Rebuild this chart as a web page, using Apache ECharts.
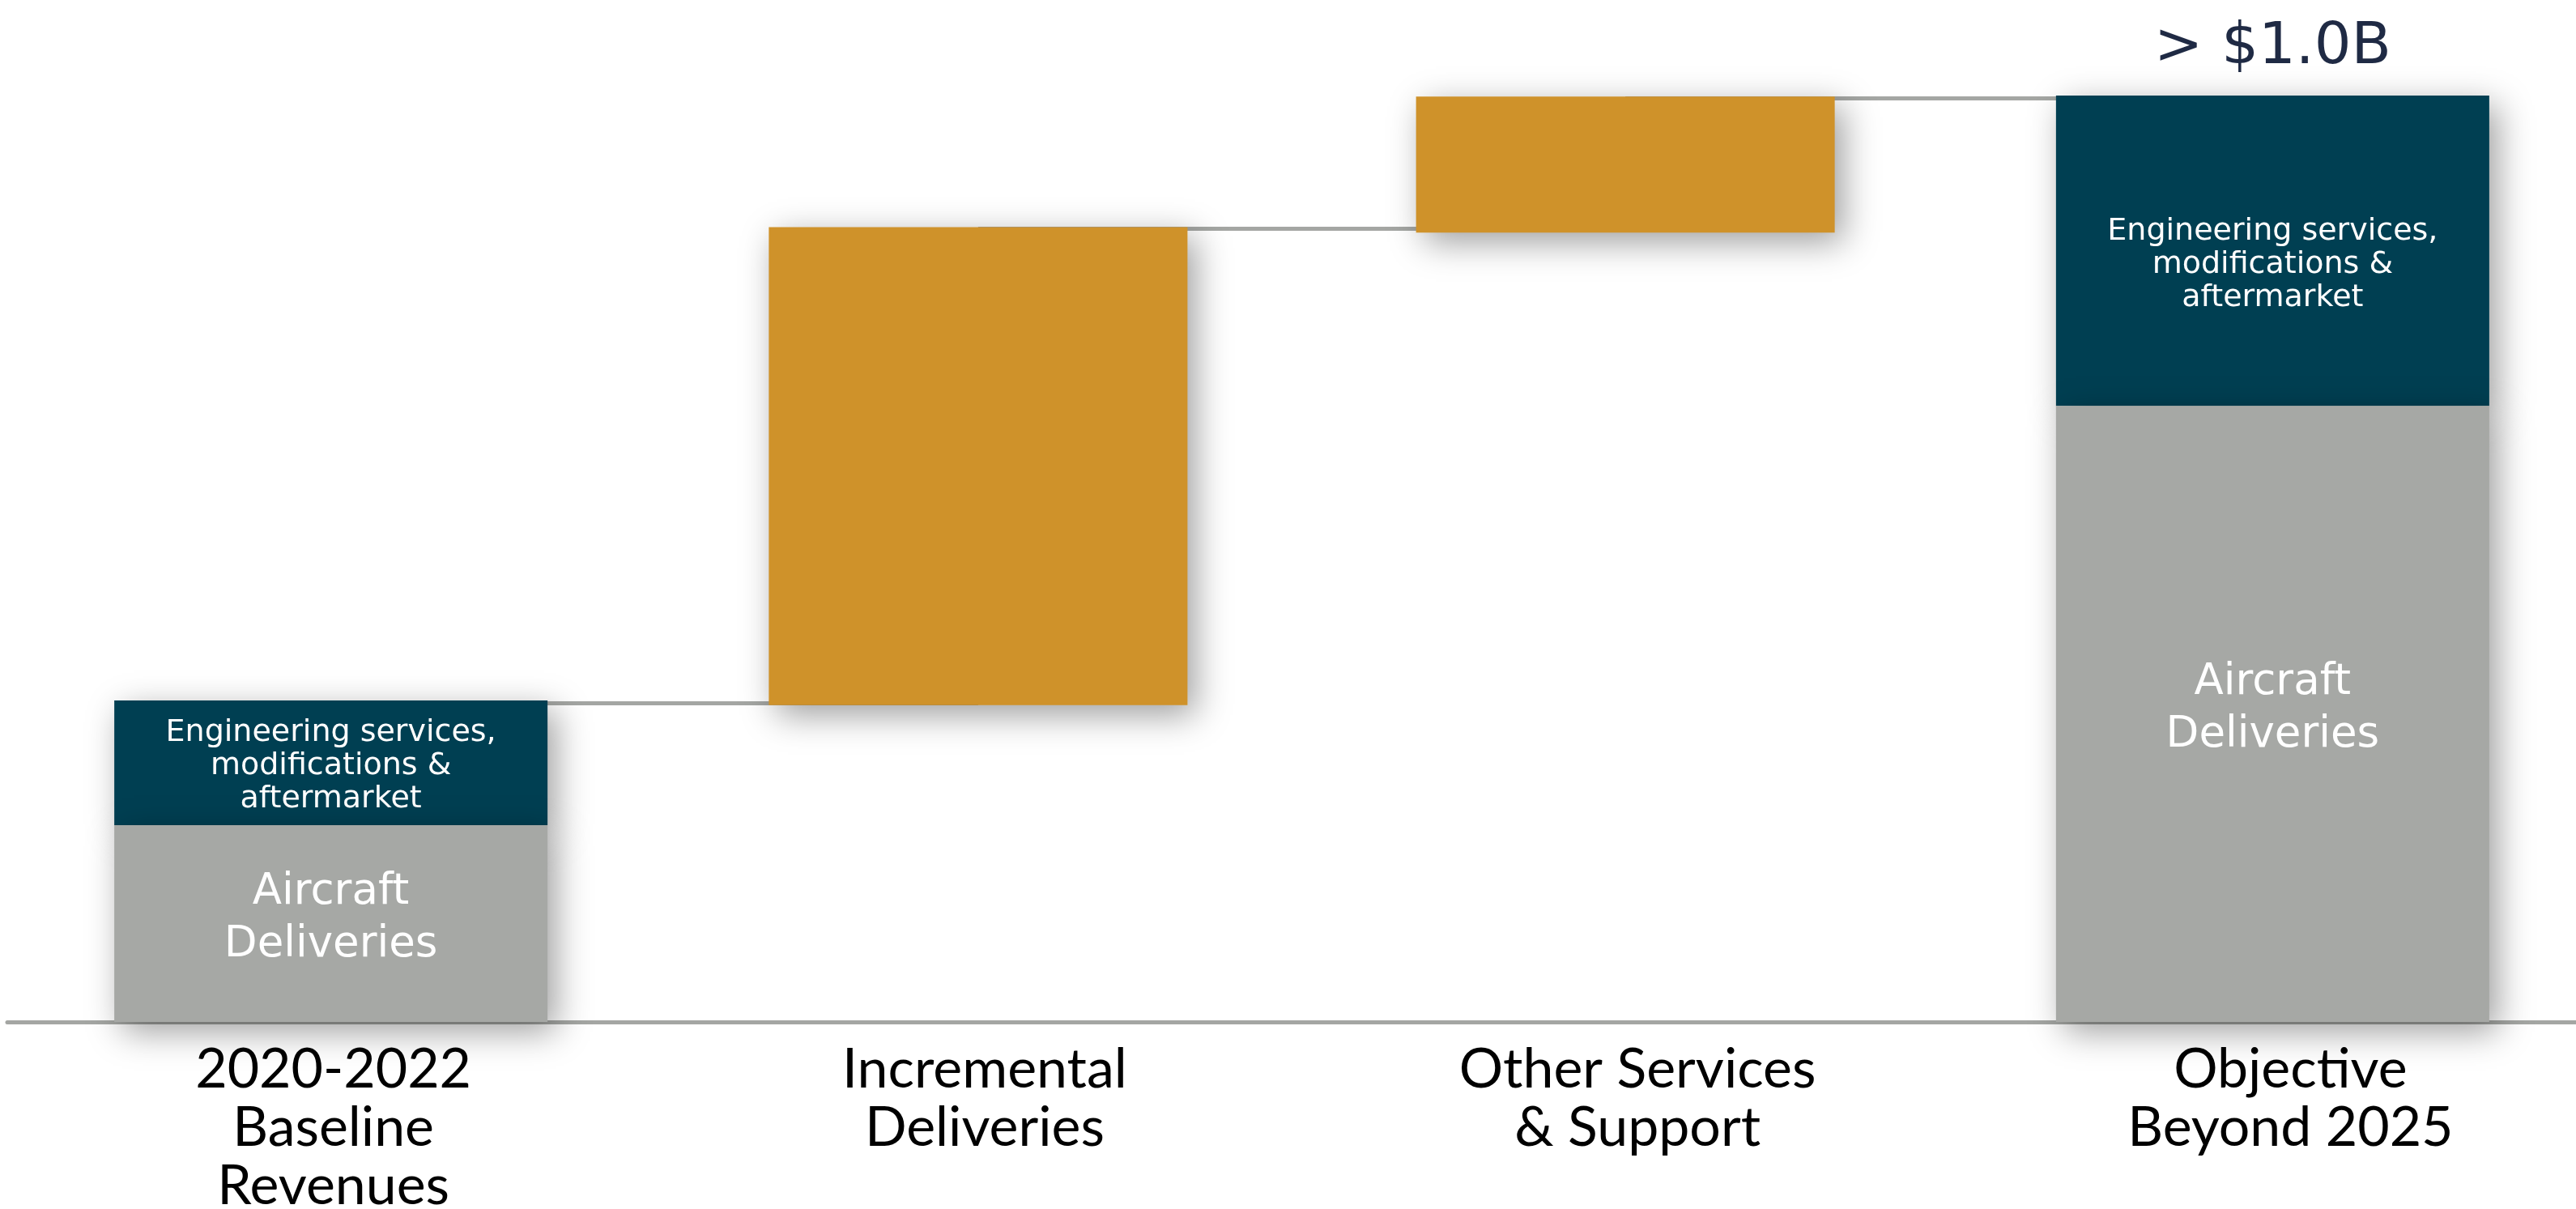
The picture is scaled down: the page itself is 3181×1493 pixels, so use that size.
<!DOCTYPE html>
<html>
<head>
<meta charset="utf-8">
<style>
  html, body { margin: 0; padding: 0; background: #ffffff; }
  #chart { width: 3181px; height: 1493px; }
</style>
<script src="https://cdn.jsdelivr.net/npm/echarts@6/dist/echarts.min.js"></script>
</head>
<body>
<div id="chart"></div>
<script>
// ---- data (values in $B) ----
const categories = ['2020-2022\nBaseline\nRevenues', 'Incremental\nDeliveries', 'Other Services\n& Support', 'Objective\nBeyond 2025'];
const aircraftDeliveries = [0.2125, null, null, 0.665];
const engineeringServices = [0.1345, null, null, 0.335];
const incrementStart = [null, 0.342, 0.852, null];
const incrementEnd = [null, 0.858, 0.999, null];
const connectorLevels = [0.344, 0.856, 0.997];
const aircraftLabel = 'Aircraft\nDeliveries';
const engineeringLabel = 'Engineering services,\nmodifications &\naftermarket';
const totalLabel = '> $1.0B';

// ---- styling (layout only) ----
const categoryLabelShift = [3, 8, 15, 22];   // px the reference labels sit right of the bar centres
const FONT_AXIS = 'Lato, "Open Sans", sans-serif';
const FONT_IN = '"DejaVu Sans", "Open Sans", sans-serif';
const GRAY = '#a6a8a5';
const LINE_GRAY = '#a4a6a3';
const NAVY = '#003f52';
const ORANGE = '#cf922a';
const shadow = { shadowBlur: 40, shadowColor: 'rgba(0,0,0,0.38)', shadowOffsetX: 10, shadowOffsetY: 12 };

// ---- derived ----
const dash = v => (v == null ? '-' : v);
const base = incrementStart.map(dash);
const increments = incrementStart.map((s, i) => (s == null ? '-' : +(incrementEnd[i] - s).toFixed(4)));
const connectors = connectorLevels.map((v, i) => [{ coord: [i, v] }, { coord: [i + 1, v] }]);
const lastIdx = categories.length - 1;
const finalTotal = aircraftDeliveries[lastIdx] + engineeringServices[lastIdx];
const categoryItems = categories.map((c, i) => ({ value: c, textStyle: { padding: [0, 0, 0, 2 * categoryLabelShift[i]] } }));

const engData = engineeringServices.map((v, i) => {
  if (v == null) return '-';
  return i === lastIdx ? { value: v, label: { offset: [0, 18] } } : v;
});

const chart = echarts.init(document.getElementById('chart'), null, { renderer: 'canvas' });
chart.setOption({
  backgroundColor: '#ffffff',
  animation: false,
  grid: { left: 9, width: 3197, top: 3.6, height: 1258.4, containLabel: false, outerBoundsMode: 'none' },
  xAxis: [
    {
      type: 'category',
      data: categoryItems,
      axisLine: { show: true, lineStyle: { color: LINE_GRAY, width: 5 } },
      axisTick: { show: false },
      axisLabel: { interval: 0, margin: 23, fontFamily: FONT_AXIS, fontSize: 68, lineHeight: 72, color: '#000000' }
    },
    { type: 'category', data: categories, show: false }
  ],
  yAxis: { type: 'value', min: 0, max: 1.1, show: false, splitLine: { show: false } },
  series: [
    {
      name: 'Aircraft Deliveries',
      type: 'bar',
      xAxisIndex: 0,
      stack: 'total',
      barWidth: 535,
      z: 3,
      data: aircraftDeliveries.map(dash),
      itemStyle: Object.assign({ color: GRAY }, shadow),
      label: {
        show: true, position: 'inside', offset: [0, -6],
        formatter: aircraftLabel, fontFamily: FONT_IN, fontSize: 53, lineHeight: 65, color: '#ffffff'
      }
    },
    {
      name: 'Engineering services, modifications & aftermarket',
      type: 'bar',
      xAxisIndex: 0,
      stack: 'total',
      barWidth: 535,
      z: 2,
      data: engData,
      itemStyle: Object.assign({ color: NAVY }, shadow),
      label: {
        show: true, position: 'inside', offset: [0, 4],
        formatter: engineeringLabel, fontFamily: FONT_IN, fontSize: 38, lineHeight: 41, color: '#ffffff'
      },
      markPoint: {
        symbol: 'circle', symbolSize: 1,
        itemStyle: { color: 'rgba(0,0,0,0)' },
        label: { show: true, position: 'top', distance: 22, formatter: totalLabel, fontFamily: FONT_IN, fontSize: 72, color: '#1f2a44' },
        data: [{ coord: [lastIdx, finalTotal] }]
      }
    },
    {
      name: 'base',
      type: 'bar',
      xAxisIndex: 1,
      stack: 'wf',
      barWidth: 517,
      data: base,
      itemStyle: { color: 'rgba(0,0,0,0)' },
      silent: true,
      markLine: {
        silent: true,
        z: 1,
        symbol: ['none', 'none'],
        label: { show: false },
        lineStyle: { color: LINE_GRAY, width: 5, type: 'solid' },
        data: connectors
      }
    },
    {
      name: 'Increments',
      type: 'bar',
      xAxisIndex: 1,
      stack: 'wf',
      barWidth: 517,
      data: increments,
      itemStyle: Object.assign({ color: ORANGE }, shadow)
    }
  ]
});
</script>
</body>
</html>
